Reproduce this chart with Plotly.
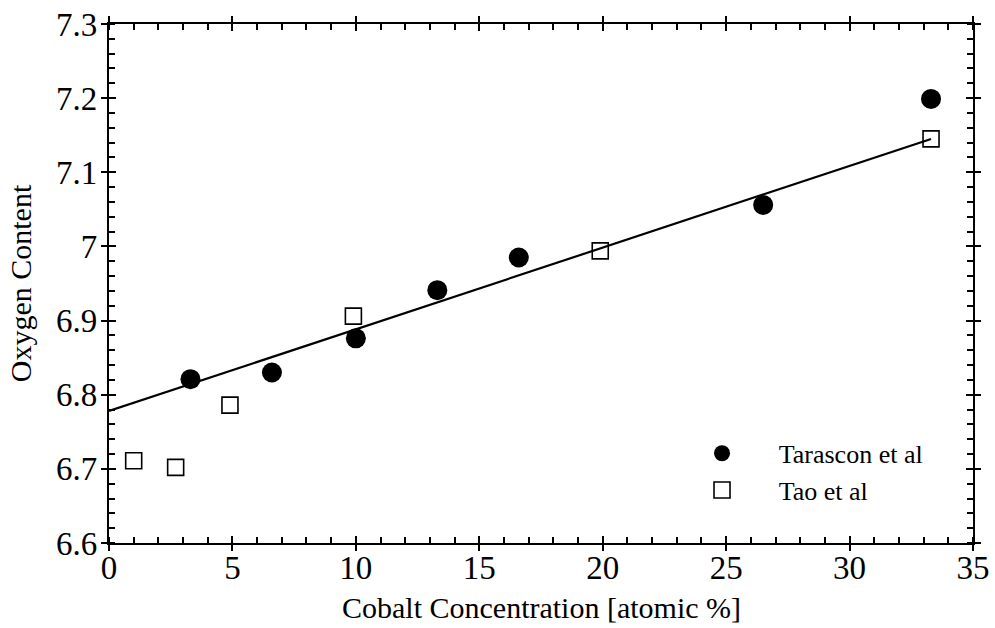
import plotly.graph_objects as go

# Data
tarascon_x = [3.3, 6.6, 10.0, 13.3, 16.6, 26.5, 33.3]
tarascon_y = [6.821, 6.830, 6.876, 6.941, 6.985, 7.056, 7.199]
tao_x = [1.0, 2.7, 4.9, 9.9, 19.9, 33.3]
tao_y = [6.711, 6.702, 6.786, 6.906, 6.994, 7.145]
fit_x = [0.0, 33.3]
fit_y = [6.778, 7.145]

FONT = "Liberation Serif"
PAD = "\u200b\u2007\u2005\u200a"

fig = go.Figure()
fig.add_trace(go.Scatter(x=fit_x, y=fit_y, mode="lines",
                         line=dict(color="black", width=2.2), showlegend=False))
fig.add_trace(go.Scatter(x=tarascon_x, y=tarascon_y, mode="markers", name=PAD + "Tarascon et al",
                         marker=dict(symbol="circle", size=20, color="black")))
fig.add_trace(go.Scatter(x=tao_x, y=tao_y, mode="markers", name=PAD + "Tao et al",
                         marker=dict(symbol="square-open", size=16, color="black",
                                     line=dict(width=1.6, color="black"))))
# dummy trace for overlay axes (inner half of major ticks)
fig.add_trace(go.Scatter(x=[], y=[], xaxis="x2", yaxis="y2", showlegend=False))

axis_common = dict(showgrid=False, zeroline=False, showline=True, linecolor="black",
                   linewidth=2.2, mirror="ticks", tickcolor="black", tickwidth=2,
                   automargin=False)

fig.update_layout(
    width=995, height=628,
    margin=dict(l=109, r=22, t=24, b=85),
    plot_bgcolor="white", paper_bgcolor="white",
    font=dict(family=FONT, color="black"),
    xaxis=dict(range=[0, 35], dtick=5, tick0=0, ticks="outside", ticklen=6,
               tickfont=dict(size=33, family=FONT), ticklabelstandoff=-12,
               minor=dict(dtick=1, ticks="inside", ticklen=6, tickcolor="black", tickwidth=1.5),
               **axis_common),
    yaxis=dict(range=[6.6, 7.3], dtick=0.1, tick0=6.6, ticks="outside", ticklen=6,
               tickformat="~g", ticklabelstandoff=-3,
               tickfont=dict(size=33, family=FONT),
               title=dict(text="Oxygen Content", font=dict(size=30, family=FONT), standoff=16),
               minor=dict(dtick=0.02, ticks="inside", ticklen=6, tickcolor="black", tickwidth=1.5),
               **axis_common),
    xaxis2=dict(overlaying="x", range=[0, 35], dtick=5, tick0=0, ticks="inside", ticklen=7,
                showticklabels=False, **axis_common),
    yaxis2=dict(overlaying="y", range=[6.6, 7.3], dtick=0.1, tick0=6.6, ticks="inside", ticklen=7,
                showticklabels=False, **axis_common),
    legend=dict(x=0.669, y=0.218, xanchor="left", yanchor="top", bgcolor="rgba(0,0,0,0)",
                font=dict(size=26, family=FONT), tracegroupgap=0, itemwidth=60),
    annotations=[dict(text="Cobalt Concentration [atomic %]", xref="paper", yref="paper",
                      x=0.5, y=-0.125, xanchor="center", yanchor="middle", showarrow=False,
                      font=dict(size=30, family=FONT, color="black"))],
)

fig.write_html("out.html")
